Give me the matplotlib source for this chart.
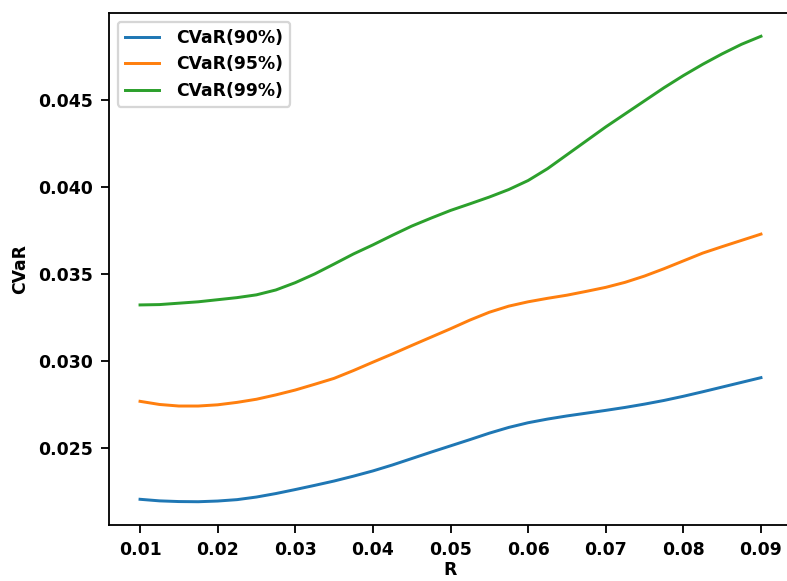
import matplotlib
matplotlib.use("Agg")
import matplotlib.pyplot as plt

# data (every 0.0025 along R)
R = [0.0100, 0.0125, 0.0150, 0.0175, 0.0200, 0.0225, 0.0250, 0.0275, 0.0300,
     0.0325, 0.0350, 0.0375, 0.0400, 0.0425, 0.0450, 0.0475, 0.0500,
     0.0525, 0.0550, 0.0575, 0.0600, 0.0625, 0.0650, 0.0675, 0.0700,
     0.0725, 0.0750, 0.0775, 0.0800, 0.0825, 0.0850, 0.0875, 0.0900]
cvar_90 = [0.02205, 0.02196, 0.02192, 0.02191, 0.02195, 0.02203, 0.02218, 0.02238, 0.02261,
           0.02285, 0.02310, 0.02338, 0.02368, 0.02402, 0.02439, 0.02476, 0.02512,
           0.02548, 0.02585, 0.02618, 0.02645, 0.02666, 0.02684, 0.02700, 0.02716,
           0.02733, 0.02752, 0.02773, 0.02797, 0.02823, 0.02850, 0.02877, 0.02904]
cvar_95 = [0.02768, 0.02750, 0.02741, 0.02741, 0.02748, 0.02762, 0.02780, 0.02805, 0.02833,
           0.02866, 0.02900, 0.02945, 0.02993, 0.03040, 0.03089, 0.03137, 0.03185,
           0.03235, 0.03280, 0.03315, 0.03340, 0.03360, 0.03378, 0.03400, 0.03423,
           0.03452, 0.03488, 0.03530, 0.03575, 0.03620, 0.03657, 0.03693, 0.03729]
cvar_99 = [0.03322, 0.03324, 0.03332, 0.03340, 0.03352, 0.03364, 0.03380, 0.03408, 0.03450,
           0.03500, 0.03557, 0.03615, 0.03667, 0.03722, 0.03775, 0.03821, 0.03865,
           0.03903, 0.03942, 0.03985, 0.04037, 0.04105, 0.04185, 0.04265, 0.04345,
           0.04420, 0.04495, 0.04570, 0.04640, 0.04705, 0.04765, 0.04820, 0.04866]
labels = ["CVaR(90%)", "CVaR(95%)", "CVaR(99%)"]
xticks = [0.01, 0.02, 0.03, 0.04, 0.05, 0.06, 0.07, 0.08, 0.09]

plt.rcParams['font.family'] = ['DejaVu Sans']
plt.rcParams['font.weight'] = 'bold'
plt.rcParams['axes.labelweight'] = 'bold'
plt.rcParams['font.size'] = 7.6

dpi = 164
fig = plt.figure(figsize=(787 / dpi, 581 / dpi), dpi=dpi)
ax = fig.add_axes([109 / 787, 56 / 581, 683 / 787, 512 / 581])

for ys, lab in zip([cvar_90, cvar_95, cvar_99], labels):
    ax.plot(R, ys, label=lab, linewidth=1.3)

ax.set_xticks(xticks)
ax.set_xticklabels([f"{v:.2f}" for v in xticks])
ax.set_xlabel("R", labelpad=1)
ax.set_ylabel("CVaR")
ax.spines['right'].set_visible(False)  # cut off in the reference image
ax.legend(loc="upper left", handletextpad=1.0)

fig.savefig("out.png", dpi=dpi)
